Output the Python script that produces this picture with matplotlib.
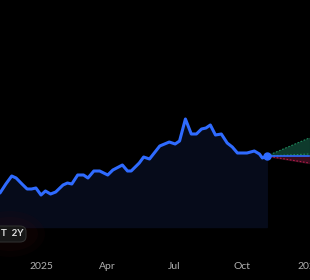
import matplotlib
matplotlib.use('Agg')
import matplotlib.pyplot as plt
from matplotlib.patches import FancyBboxPatch, Ellipse
import pandas as pd

dates = ['2024-11-05', '2024-11-13', '2024-11-21', '2024-11-27', '2024-12-05', '2024-12-12',
         '2024-12-18', '2024-12-24', '2024-12-31', '2025-01-06', '2025-01-13', '2025-01-20',
         '2025-01-30', '2025-02-05', '2025-02-11', '2025-02-19', '2025-02-27', '2025-03-05',
         '2025-03-13', '2025-03-21', '2025-04-01', '2025-04-08', '2025-04-21', '2025-04-28',
         '2025-05-03', '2025-05-14', '2025-05-20', '2025-05-28', '2025-06-11', '2025-06-24',
         '2025-07-02', '2025-07-08', '2025-07-16', '2025-07-24', '2025-07-31', '2025-08-07',
         '2025-08-13', '2025-08-19', '2025-08-26', '2025-09-03', '2025-09-11', '2025-09-18',
         '2025-09-25', '2025-10-08', '2025-10-18', '2025-10-25', '2025-10-29', '2025-11-04']
prices = [77, 81.5, 85.5, 84.5, 81.5, 79, 79, 79.5, 76, 78, 76.5, 77.5,
          81, 82, 81.5, 86, 86, 84.5, 88, 88, 86, 88.5, 91, 88,
          88, 92, 95, 94, 100.5, 102.5, 101.5, 103, 114, 106.5, 106.5, 109,
          109.5, 111, 106, 106.5, 102, 100, 97, 97, 98, 96.5, 94.5, 95.5]

forecast_dates = ['2025-11-04', '2026-01-01']
forecast_high = [95.5, 104.5]
forecast_avg = [95.5, 96.5]
forecast_median = [95.5, 95.5]
forecast_low = [95.5, 92]

tick_dates = ['2025-01-01', '2025-04-01', '2025-07-01', '2025-10-01', '2026-01-01']
tick_labels = ['2025', 'Apr', 'Jul', 'Oct', '2026']

d = pd.to_datetime(dates)
fd = pd.to_datetime(forecast_dates)

plt.rcParams['font.family'] = ['Lato', 'DejaVu Sans']
fig = plt.figure(figsize=(3.1, 2.8), dpi=100, facecolor='black')
ax = fig.add_axes([0, 25 / 280, 1, 255 / 280])
ax.set_facecolor('black')

blue = '#2f6bff'
ax.fill_between(d, prices, 60, color='#060b1a', zorder=1)
ax.plot(d, prices, color=blue, lw=2.2, zorder=3, solid_capstyle='round', solid_joinstyle='round')

ax.fill_between(fd, forecast_median, forecast_high, color='#0e3a2c', zorder=2)
ax.fill_between(fd, forecast_low, forecast_median, color='#3a0c1e', zorder=2)
ax.plot(fd, forecast_high, color='#1f8a5c', lw=0.8, ls=(0, (1.5, 1.5)), zorder=3)
ax.plot(fd, forecast_avg, color='#1f8a5c', lw=0.8, ls=(0, (1.5, 1.5)), zorder=3)
ax.plot(fd, forecast_low, color='#b01c48', lw=0.8, ls=(0, (1.5, 1.5)), zorder=3)
ax.plot(fd, forecast_median, color=blue, lw=1.2, zorder=4)
ax.plot(d[-1:], prices[-1:], 'o', color=blue, ms=5, zorder=5)

ax.set_xlim(pd.Timestamp('2024-11-05'), pd.Timestamp('2026-01-02'))
ax.set_ylim(46, 173.5)
ax.set_xticks(pd.to_datetime(tick_dates))
ax.set_xticklabels(tick_labels)
ax.tick_params(axis='x', length=0, pad=5, labelsize=7.5, colors='#b0b0b0')
ax.set_yticks([])
for s in ax.spines.values():
    s.set_visible(False)

# range selector button, mostly cut off on the left
for w, h, a in [(70, 46, 0.10), (56, 34, 0.12)]:
    fig.patches.append(Ellipse((10 / 310, 1 - 234 / 280), w / 310, h / 280,
                               transform=fig.transFigure, color='#3a0a10', alpha=a, lw=0))
fig.patches.append(FancyBboxPatch((-20 / 310, 1 - 242 / 280), 46 / 310, 16 / 280,
                                  boxstyle='round,pad=0,rounding_size=0.02',
                                  transform=fig.transFigure, facecolor='#171717',
                                  edgecolor='#2e2e2e', lw=0.8))
fig.text(1 / 310, 1 - 234 / 280, 'T  2Y', color='#e0e0e0', fontsize=7,
         fontweight='bold', va='center', ha='left')

plt.savefig('out.png', dpi=100, facecolor='black')
